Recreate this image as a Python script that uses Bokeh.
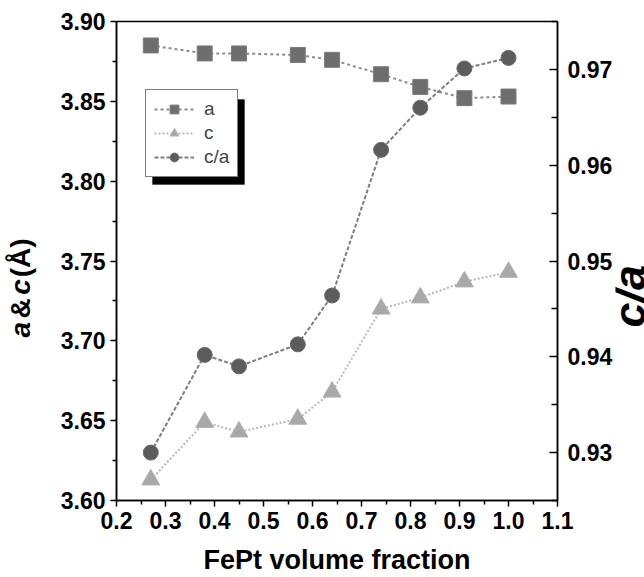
import numpy as np
from bokeh.plotting import figure
from bokeh.layouts import row
from bokeh.models import (Range1d, LinearAxis, FixedTicker, NumeralTickFormatter,
                          Legend, LegendItem, Label, BoxAnnotation)
from bokeh.embed import file_html
from bokeh.resources import INLINE

# ---- data ----
fept_fraction = [0.27, 0.38, 0.45, 0.57, 0.64, 0.74, 0.82, 0.91, 1.00]
a_values = [3.885, 3.880, 3.880, 3.879, 3.876, 3.867, 3.859, 3.852, 3.853]
c_values = [3.613, 3.649, 3.643, 3.651, 3.668, 3.720, 3.727, 3.737, 3.743]
ca_values = [0.9300, 0.9402, 0.9390, 0.9413, 0.9464, 0.9616, 0.9660, 0.9701, 0.9712]

x_ticks = [0.2, 0.3, 0.4, 0.5, 0.6, 0.7, 0.8, 0.9, 1.0, 1.1]
left_ticks = [3.60, 3.65, 3.70, 3.75, 3.80, 3.85, 3.90]
right_ticks = [0.93, 0.94, 0.95, 0.96, 0.97]

FONT = "Liberation Sans"
H = 577

p = figure(width=567, height=H, x_range=Range1d(0.2, 1.1), y_range=Range1d(3.60, 3.90),
           output_backend="svg", toolbar_location=None,
           min_border_left=68, min_border_right=58, min_border_top=21, min_border_bottom=76)
p.extra_y_ranges = {"ca": Range1d(0.925, 0.975)}
p.grid.visible = False
p.outline_line_color = "black"
p.outline_line_width = 1.5
p.background_fill_color = "white"
p.border_fill_color = "white"


def style_axis(ax):
    ax.axis_line_width = 1.5
    ax.axis_line_color = "black"
    ax.major_tick_line_width = 1.5
    ax.minor_tick_line_width = 1.5
    ax.major_tick_line_color = "black"
    ax.minor_tick_line_color = "black"
    ax.major_label_text_font = FONT
    ax.major_label_text_font_size = "23px"
    ax.major_label_text_font_style = "bold"
    ax.major_label_text_color = "black"


xa = p.xaxis[0]
xa.ticker = FixedTicker(ticks=x_ticks, minor_ticks=list(np.array(x_ticks[:-1]) + 0.05))
xa.formatter = NumeralTickFormatter(format="0.0")
style_axis(xa)
xa.major_tick_out = 6
xa.major_tick_in = 0
xa.minor_tick_out = 4
xa.minor_tick_in = 0
xa.major_label_standoff = 5
xa.axis_label = "FePt volume fraction"
xa.axis_label_text_font = FONT
xa.axis_label_text_font_size = "27px"
xa.axis_label_text_font_style = "bold"
xa.axis_label_text_color = "black"
xa.axis_label_standoff = 13

ya = p.yaxis[0]
ya.ticker = FixedTicker(ticks=left_ticks, minor_ticks=list(np.array(left_ticks[:-1]) + 0.025))
ya.formatter = NumeralTickFormatter(format="0.00")
style_axis(ya)
ya.major_tick_out = 6
ya.major_tick_in = 0
ya.minor_tick_out = 4
ya.minor_tick_in = 0
ya.major_label_standoff = 5

ra = LinearAxis(y_range_name="ca",
                ticker=FixedTicker(ticks=right_ticks,
                                   minor_ticks=[0.925] + list(np.array(right_ticks) + 0.005)),
                formatter=NumeralTickFormatter(format="0.00"))
style_axis(ra)
ra.major_tick_out = 0
ra.major_tick_in = 8
ra.minor_tick_out = 0
ra.minor_tick_in = 6
ra.major_label_standoff = 10
p.add_layout(ra, "right")

# ---- series ----
la = p.line(fept_fraction, a_values, line_color="#8c8c8c", line_width=2, line_dash="3 3")
sa = p.scatter(fept_fraction, a_values, marker="square", size=15,
               fill_color="#6e6e6e", line_color="#7c7c7c", line_width=1)
lc = p.line(fept_fraction, c_values, line_color="#b8b8b8", line_width=2, line_dash="2 2")
sc = p.scatter(fept_fraction, c_values, marker="triangle", size=18,
               fill_color="#a8a8a8", line_color="#b2b2b2", line_width=1)
lca = p.line(fept_fraction, ca_values, y_range_name="ca", line_color="#7e7e7e",
             line_width=2, line_dash="4 2")
sca = p.scatter(fept_fraction, ca_values, y_range_name="ca", marker="circle", size=15,
                fill_color="#5c5c5c", line_color="#6a6a6a", line_width=1)

# ---- legend with shadow ----
shadow = BoxAnnotation(left=36, right=128, bottom=316, top=401,
                       left_units="screen", right_units="screen",
                       top_units="screen", bottom_units="screen",
                       fill_color="black", fill_alpha=1.0, line_color="black")
p.add_layout(shadow)

legend = Legend(items=[LegendItem(label="a", renderers=[la, sa]),
                       LegendItem(label="c", renderers=[lc, sc]),
                       LegendItem(label="c/a", renderers=[lca, sca])],
                location=(29, 323))
legend.border_line_color = "black"
legend.border_line_width = 1.5
legend.background_fill_color = "white"
legend.background_fill_alpha = 1.0
legend.label_text_font = FONT
legend.label_text_font_size = "19px"
legend.glyph_width = 40
legend.glyph_height = 22
legend.label_height = 22
legend.spacing = 2
legend.padding = 8
legend.label_standoff = 10
legend.margin = 0
p.add_layout(legend)


def text_panel(width):
    f = figure(width=width, height=H, x_range=Range1d(0, width), y_range=Range1d(0, H),
               x_axis_type=None, y_axis_type=None,
               output_backend="svg", toolbar_location=None, min_border=0)
    f.grid.visible = False
    f.outline_line_color = None
    f.background_fill_color = "white"
    f.border_fill_color = "white"
    return f


# ---- left title: "a & c (Å)" with italic a and c ----
left_fig = text_panel(48)
pieces = [("a", "bold italic", 205.8), ("&", "bold", 231.5),
          ("c", "bold italic", 257.2), ("(Å)", "bold", 292.2)]
for txt, style, ypos in pieces:
    left_fig.add_layout(Label(x=20, y=ypos, text=txt, angle=np.pi / 2,
                              text_align="center", text_baseline="middle",
                              text_font=FONT, text_font_size="28px", text_font_style=style,
                              text_color="black"))

# ---- right title: "c/a" ----
right_fig = text_panel(29)
right_fig.add_layout(Label(x=14, y=246, text="c/a", angle=np.pi / 2,
                           text_align="center", text_baseline="middle",
                           text_font=FONT, text_font_size="45px",
                           text_font_style="bold italic", text_color="black"))

layout = row(left_fig, p, right_fig)
open("out.html", "w").write(file_html(layout, INLINE))
